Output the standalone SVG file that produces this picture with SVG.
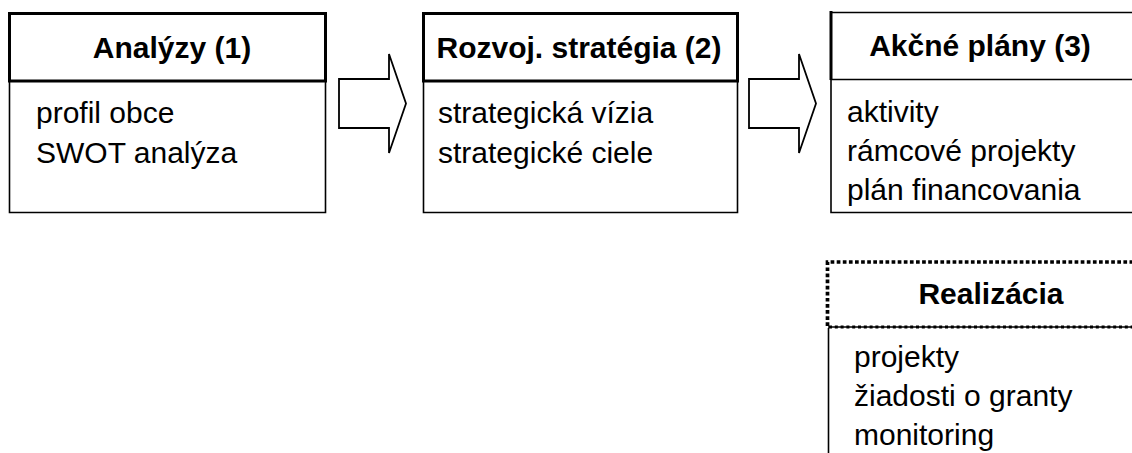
<svg xmlns="http://www.w3.org/2000/svg" width="1132" height="453" viewBox="0 0 1132 453">
<style>
.hd{font-family:"Liberation Sans",Arial,sans-serif;font-weight:bold;font-size:30px;fill:#000;text-anchor:middle}
.bd{font-family:"Liberation Sans",Arial,sans-serif;font-size:30px;fill:#000}
.thick{fill:none;stroke:#000;stroke-width:3}
.thin{fill:none;stroke:#000;stroke-width:1.6}
.arrow{fill:#fff;stroke:#000;stroke-width:1.8;stroke-linejoin:miter}
.dot{fill:none;stroke:#000;stroke-width:3.7;stroke-dasharray:3.7 2.4}
.dot2{fill:none;stroke:#000;stroke-width:2.8;stroke-dasharray:3 2.8}
</style>
<rect width="1132" height="453" fill="#fff"/>
<g id="n1">
<path class="thin" d="M9.5 81 V212.5 H325.5 V81"/>
<rect class="thick" x="9.5" y="13.5" width="316" height="67.5"/>
<text class="hd" x="172" y="58">Analýzy (1)</text>
<text class="bd" x="36" y="123">profil obce</text>
<text class="bd" x="36" y="163">SWOT analýza</text>
</g>
<g id="n2">
<path class="thin" d="M423.5 81 V212.5 H737.5 V81"/>
<rect class="thick" x="423.5" y="13.5" width="314" height="67.5"/>
<text class="hd" x="579" y="58">Rozvoj. stratégia (2)</text>
<text class="bd" x="438" y="123">strategická vízia</text>
<text class="bd" x="438" y="163">strategické ciele</text>
</g>
<g id="n3">
<path class="thin" d="M831 80 V212.5 H1140"/>
<path class="thin" d="M831 12.5 H1140 M831 79.5 H1140" stroke-width="2"/>
<path class="thick" d="M831 11 V80"/>
<text class="hd" x="980" y="56">Akčné plány (3)</text>
<text class="bd" x="847" y="122">aktivity</text>
<text class="bd" x="847" y="161">rámcové projekty</text>
<text class="bd" x="847" y="200">plán financovania</text>
</g>
<g id="n4">
<path class="dot" d="M827.5 326 V262 H1140"/>
<path class="thin" d="M828 327 H1140" stroke-width="1"/>
<path class="dot2" d="M829 327 H1140"/>
<path class="thin" d="M828.5 328 V453"/>
<text class="hd" x="991" y="304">Realizácia</text>
<text class="bd" x="854" y="367">projekty</text>
<text class="bd" x="854" y="406">žiadosti o granty</text>
<text class="bd" x="854" y="445">monitoring</text>
</g>
<g id="connectors">
<path class="arrow" d="M339 79 H389 V54 L406 103.5 L389 153 V128 H339 Z"/>
<path class="arrow" d="M749 79 H799 V54 L816 103.5 L799 153 V128 H749 Z"/>
</g>
</svg>
